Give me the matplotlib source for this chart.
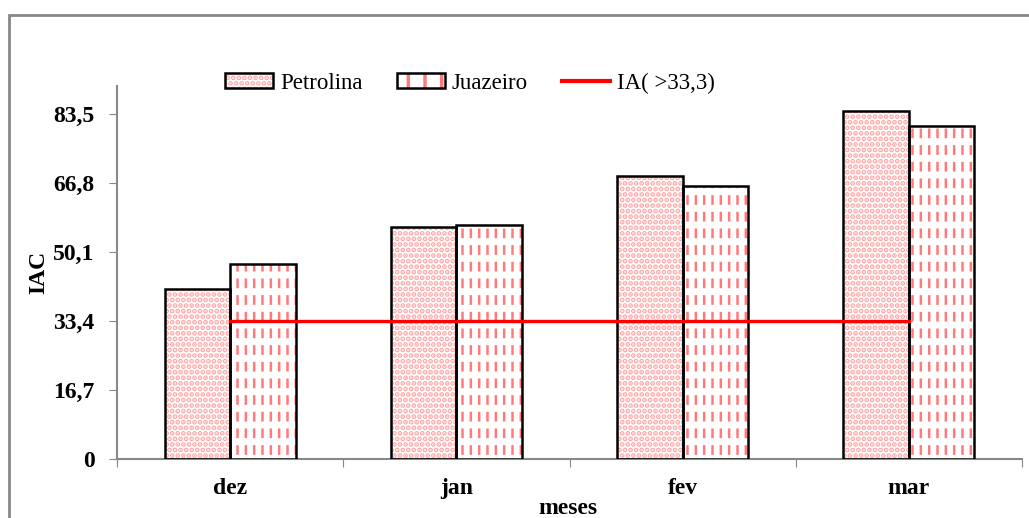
import matplotlib
matplotlib.use("Agg")
import matplotlib.pyplot as plt
import numpy as np
from matplotlib.patches import Rectangle, Patch
from matplotlib.lines import Line2D

months = ["dez", "jan", "fev", "mar"]
petrolina = [41.0, 56.2, 68.5, 84.2]
juazeiro = [47.1, 56.7, 65.9, 80.6]
ia_threshold = 33.3
yticks = [0, 16.7, 33.4, 50.1, 66.8, 83.5]
ytick_labels = ["0", "16,7", "33,4", "50,1", "66,8", "83,5"]

plt.rcParams["font.family"] = ["Liberation Serif", "DejaVu Serif"]
plt.rcParams["hatch.linewidth"] = 2.5

P_DOT = "#ffa8a8"
J_DASH = "#ff7a7a"


def set_hatch_lw(bars, lw):
    for b in bars:
        if hasattr(b, "set_hatch_linewidth"):
            b.set_hatch_linewidth(lw)


fig = plt.figure(figsize=(10.29, 5.18), dpi=100)
fig.patches.append(Rectangle((9 / 1029, -0.05), 1.2, 1 - 15 / 518 + 0.05,
                             transform=fig.transFigure, fill=False,
                             edgecolor="#888888", linewidth=2.0))
ax = fig.add_axes([117 / 1029, 1 - 459 / 518, 905 / 1029, 373 / 518])

x = np.arange(len(months)) + 0.5
w = 0.29

# Petrolina: pink dotted fill
ax.bar(x - w / 2, petrolina, w, color="white", edgecolor=P_DOT,
       hatch="...", linewidth=0, zorder=2)
ax.bar(x - w / 2, petrolina, w, fill=False, edgecolor="black",
       linewidth=1.8, zorder=4)

# Juazeiro: dashed vertical red strokes
dashes = ax.bar(x + w / 2, juazeiro, w, color="white", edgecolor=J_DASH,
                hatch="||", linewidth=0, zorder=2)
set_hatch_lw(dashes, 1.8)
gaps = ax.bar(x + w / 2, juazeiro, w, color="none", edgecolor="white",
              hatch="-", linewidth=0, zorder=3)
set_hatch_lw(gaps, 5)
ax.bar(x + w / 2, juazeiro, w, fill=False, edgecolor="black",
       linewidth=1.8, zorder=4)

ax.plot([x[0], x[-1]], [ia_threshold, ia_threshold], color="#ff0000",
        linewidth=2.4, zorder=5)

ax.set_xlim(0, 4)
ax.set_ylim(0, 90.2)
ax.set_yticks(yticks)
ax.set_yticklabels(ytick_labels, fontsize=17, fontweight="bold")
ax.set_xticks([0, 1, 2, 3, 4])
ax.set_xticklabels([])
ax.set_xticks(x, minor=True)
ax.set_xticklabels(months, minor=True, fontsize=17, fontweight="bold")
ax.tick_params(axis="x", which="minor", length=0, pad=14)
ax.tick_params(axis="x", which="major", length=6, color="#888888", direction="out")
ax.tick_params(axis="y", length=6, color="#888888", direction="out", pad=10)

for s in ["top", "right"]:
    ax.spines[s].set_visible(False)
for s in ["left", "bottom"]:
    ax.spines[s].set_color("#888888")
    ax.spines[s].set_linewidth(1.5)

ax.set_ylabel("IAC", fontsize=17, fontweight="bold")
ax.yaxis.set_label_coords(-0.075, 0.5)
fig.text(568 / 1029, 1 - 508 / 518, "meses", ha="center", va="center",
         fontsize=17, fontweight="bold")

handles = [
    (Patch(facecolor="white", edgecolor=P_DOT, hatch="...", linewidth=0),
     Patch(fill=False, edgecolor="black", linewidth=1.8)),
    (Patch(facecolor="white", edgecolor=J_DASH, hatch="|", linewidth=0),
     Patch(fill=False, edgecolor="black", linewidth=1.8)),
    Line2D([0], [0], color="#ff0000", linewidth=3),
]
leg = fig.legend(handles, ["Petrolina", "Juazeiro", "IA( >33,3)"],
                 loc="center", bbox_to_anchor=(470 / 1029, 1 - 83 / 518),
                 ncol=3, frameon=False, fontsize=16.5, columnspacing=1.5,
                 handlelength=2.1, handleheight=0.6, handletextpad=0.3)

fig.savefig("out.png", dpi=100)
